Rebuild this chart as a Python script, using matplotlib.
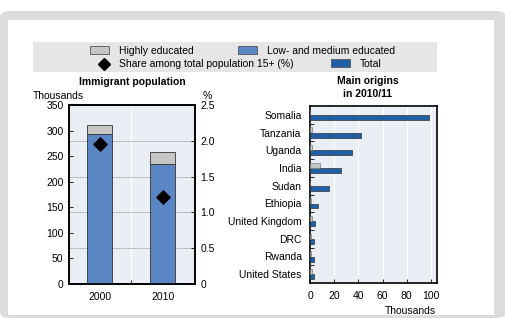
import matplotlib
matplotlib.use("Agg")
import matplotlib.pyplot as plt
from matplotlib.patches import Rectangle, FancyBboxPatch
from matplotlib.lines import Line2D
import numpy as np

plt.rcParams["font.family"] = ["Liberation Sans", "DejaVu Sans"]
plt.rcParams["font.size"] = 7.5

# ---- data ----
years = ["2000", "2010"]
low_medium = [293, 235]        # thousands
highly_edu = [18, 23]          # thousands (on top)
share_pct = [1.95, 1.22]       # % of total pop 15+

countries = ["Somalia", "Tanzania", "Uganda", "India", "Sudan", "Ethiopia",
             "United Kingdom", "DRC", "Rwanda", "United States"]
origin_total = [98, 42, 35, 26, 16, 7, 4.4, 3, 3, 3]
origin_high = [0, 1.5, 1.5, 8, 0.3, 0.5, 1.5, 0.5, 0.5, 1.5]

share_ticks = [0, 0.5, 1.0, 1.5, 2.0, 2.5]

GRAY = "#c6c6c6"
LBLUE = "#5b86c4"
DBLUE = "#1f5fa6"
BG = "#eaeff5"
EDGE = "#333333"

W, H = 506, 318
fig = plt.figure(figsize=(W / 100, H / 100), dpi=100)


def px(x0, y0, x1, y1):
    # pixel box (top-left origin) -> figure fraction rect
    return [x0 / W, 1 - y1 / H, (x1 - x0) / W, (y1 - y0) / H]


# outer frame (kept below the axes)
fig.patches.append(FancyBboxPatch((0 / W, 0), 506 / W, 307 / H,
                                  boxstyle="round,pad=0,rounding_size=0.02",
                                  transform=fig.transFigure, facecolor="#dcdcdc",
                                  edgecolor="none", zorder=-3))
fig.patches.append(Rectangle((8 / W, 3 / H), 486 / W, 295 / H,
                             transform=fig.transFigure, facecolor="white",
                             edgecolor="none", zorder=-2))

# legend box
fig.patches.append(Rectangle((33 / W, 1 - 72 / H), 404 / W, 30 / H,
                             transform=fig.transFigure, facecolor="#e6e6e6",
                             edgecolor="none", zorder=-1))


def leg_patch(x, y, color):
    fig.patches.append(Rectangle((x / W, 1 - (y + 4) / H), 19 / W, 8 / H,
                                 transform=fig.transFigure, facecolor=color,
                                 edgecolor="#555555", lw=0.6, zorder=1))


leg_patch(90, 50, GRAY)
fig.text(119 / W, 1 - 51 / H, "Highly educated", va="center", ha="left")
leg_patch(238, 50, LBLUE)
fig.text(267 / W, 1 - 51 / H, "Low- and medium educated", va="center", ha="left")
fig.lines.append(Line2D([104 / W], [1 - 64 / H], transform=fig.transFigure,
                        marker="D", color="black", markersize=6, ls="none"))
fig.text(119 / W, 1 - 64 / H, "Share among total population 15+ (%)",
         va="center", ha="left")
leg_patch(331, 63, DBLUE)
fig.text(360 / W, 1 - 64 / H, "Total", va="center", ha="left")

# ---- left panel ----
ax = fig.add_axes(px(69, 105, 195, 284))
ax.set_facecolor(BG)
x = np.arange(len(years))
ax.bar(x, low_medium, width=0.4, color=LBLUE, edgecolor=EDGE, lw=0.6, zorder=3)
ax.bar(x, highly_edu, bottom=low_medium, width=0.4, color=GRAY,
       edgecolor=EDGE, lw=0.6, zorder=3)
ax.set_xlim(-0.49, 1.51)
ax.set_ylim(0, 350)
ax.set_yticks(range(0, 351, 50))
ax.set_xticks(x)
ax.set_xticklabels(years)
ax.set_xticks([0.5], minor=True)
ax.axvline(0.5, color="white", lw=0.8, zorder=1)
ax.tick_params(direction="in", length=3, width=0.6, pad=4)
ax.tick_params(axis="x", length=0, pad=6)
ax.tick_params(axis="x", which="minor", direction="in", length=3)
for s in ax.spines.values():
    s.set_linewidth(1.2)

ax2 = ax.twinx()
ax2.scatter(x, share_pct, marker="D", s=45, color="black", zorder=5)
ax2.set_ylim(0, 2.5)
ax2.set_yticks(share_ticks)
ax2.set_yticklabels(["0", "0.5", "1.0", "1.5", "2.0", "2.5"])
ax2.tick_params(direction="in", length=3, width=0.6, pad=4)
for s in ax2.spines.values():
    s.set_linewidth(1.2)

# grid follows the % axis but sits behind the bars
lo, hi = ax2.get_ylim()
for t in share_ticks[1:-1]:
    ax.axhline((t - lo) / (hi - lo) * 350, color="#bdbdbd", lw=0.7, zorder=1)

fig.text(33 / W, 1 - 96 / H, "Thousands", va="center", ha="left")
fig.text(203 / W, 1 - 96 / H, "%", va="center", ha="left")
fig.text(132 / W, 1 - 82 / H, "Immigrant population", va="center",
         ha="center", fontweight="bold")

# ---- right panel ----
axr = fig.add_axes(px(310, 106, 437, 283))
axr.set_facecolor(BG)
yy = np.arange(len(countries))
axr.barh(yy + 0.15, origin_total, height=0.28, color=DBLUE,
         edgecolor=EDGE, lw=0.5, zorder=3)
axr.barh(yy - 0.15, origin_high, height=0.28, color=GRAY,
         edgecolor="#777777", lw=0.5, zorder=3)
axr.set_ylim(9.5, -0.5)
axr.set_xlim(0, 105)
axr.set_yticks(yy)
axr.set_yticklabels(countries)
axr.set_yticks(yy[:-1] + 0.5, minor=True)
axr.set_xticks(range(0, 101, 20))
axr.grid(axis="x", color="white", lw=0.8)
axr.set_axisbelow(True)
axr.tick_params(axis="y", which="major", length=0, pad=6)
axr.tick_params(axis="y", which="minor", direction="in", length=3, width=0.6)
axr.tick_params(axis="x", direction="in", length=3, width=0.6, pad=6)
for s in axr.spines.values():
    s.set_linewidth(1.2)

fig.text(436 / W, 1 - 311 / H, "Thousands", va="center", ha="right")
fig.text(368 / W, 1 - 81 / H, "Main origins", va="center", ha="center",
         fontweight="bold")
fig.text(368 / W, 1 - 94 / H, "in 2010/11", va="center", ha="center",
         fontweight="bold")

fig.savefig("out.png", dpi=100)
